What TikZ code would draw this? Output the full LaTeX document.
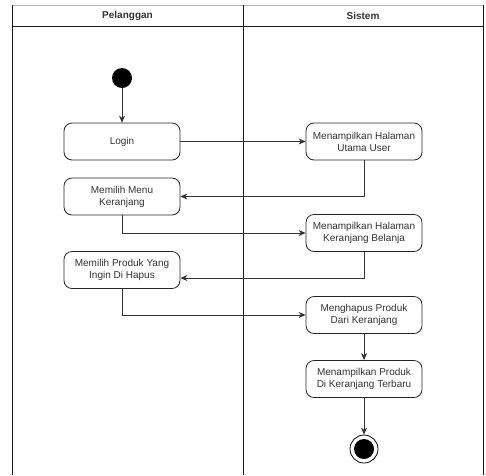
\documentclass[tikz,border=0pt]{standalone}
\usepackage{fontspec}
\setmainfont{Liberation Sans}
\usetikzlibrary{arrows.meta}
\begin{document}
\begin{tikzpicture}[x=1pt,y=-1pt,
  act/.style={draw=black!85, line width=0.8pt, rounded corners=8pt, minimum width=116pt, minimum height=37pt, align=center, font=\fontsize{10}{12}\selectfont, text=black!80, inner sep=1pt},
  flow/.style={draw=black!80, line width=0.8pt, -{Stealth[length=7pt,width=6pt]}},
  lane/.style={draw=black!90, line width=0.9pt},
  hdr/.style={font=\fontsize{10}{12}\selectfont\bfseries, text=black!80}]
\useasboundingbox (0,0) rectangle (486,475);
\fill[white] (0,0) rectangle (486,475);
% swimlanes
\draw[black!30, line width=0.8pt] (12,5) -- (483,5);
\draw[lane] (12,5) -- (12,475);
\draw[lane] (483,5) -- (483,475);
\draw[lane] (243,5) -- (243,475);
\draw[lane] (12,26) -- (483,26);
\node[hdr] (h1) at (127.5,16) {Pelanggan};
\node[hdr] (h2) at (363,16) {Sistem};
% nodes
\node[circle, fill=black, minimum size=20pt, inner sep=0pt] (start) at (122,78) {};
\node[act] (login) at (122,141.5) {Login};
\node[act] (utama) at (364,141.5) {Menampilkan Halaman\\Utama User};
\node[act] (menu) at (122,196.5) {Memilih Menu\\Keranjang};
\node[act] (belanja) at (364,233) {Menampilkan Halaman\\Keranjang Belanja};
\node[act] (pilih) at (122,270) {Memilih Produk Yang\\Ingin Di Hapus};
\node[act] (hapus) at (364,315) {Menghapus Produk\\Dari Keranjang};
\node[act] (tampil) at (364,379) {Menampilkan Produk\\Di Keranjang Terbaru};
\node[circle, draw=black, line width=0.8pt, fill=white, minimum size=28pt, inner sep=0pt] (end) at (364,449) {};
\node[circle, fill=black, minimum size=20pt, inner sep=0pt] (endin) at (364,449) {};
% connectors
\draw[flow] (start) -- (login);
\draw[flow] (login) -- (utama);
\draw[flow] (utama.south) |- (menu.east);
\draw[flow] (menu.south) |- (belanja.west);
\draw[flow] (belanja.south) |- ([yshift=-8pt]pilih.east);
\draw[flow] (pilih.south) |- (hapus.west);
\draw[flow] (hapus) -- (tampil);
\draw[flow] (tampil) -- (end);
\end{tikzpicture}
\end{document}
